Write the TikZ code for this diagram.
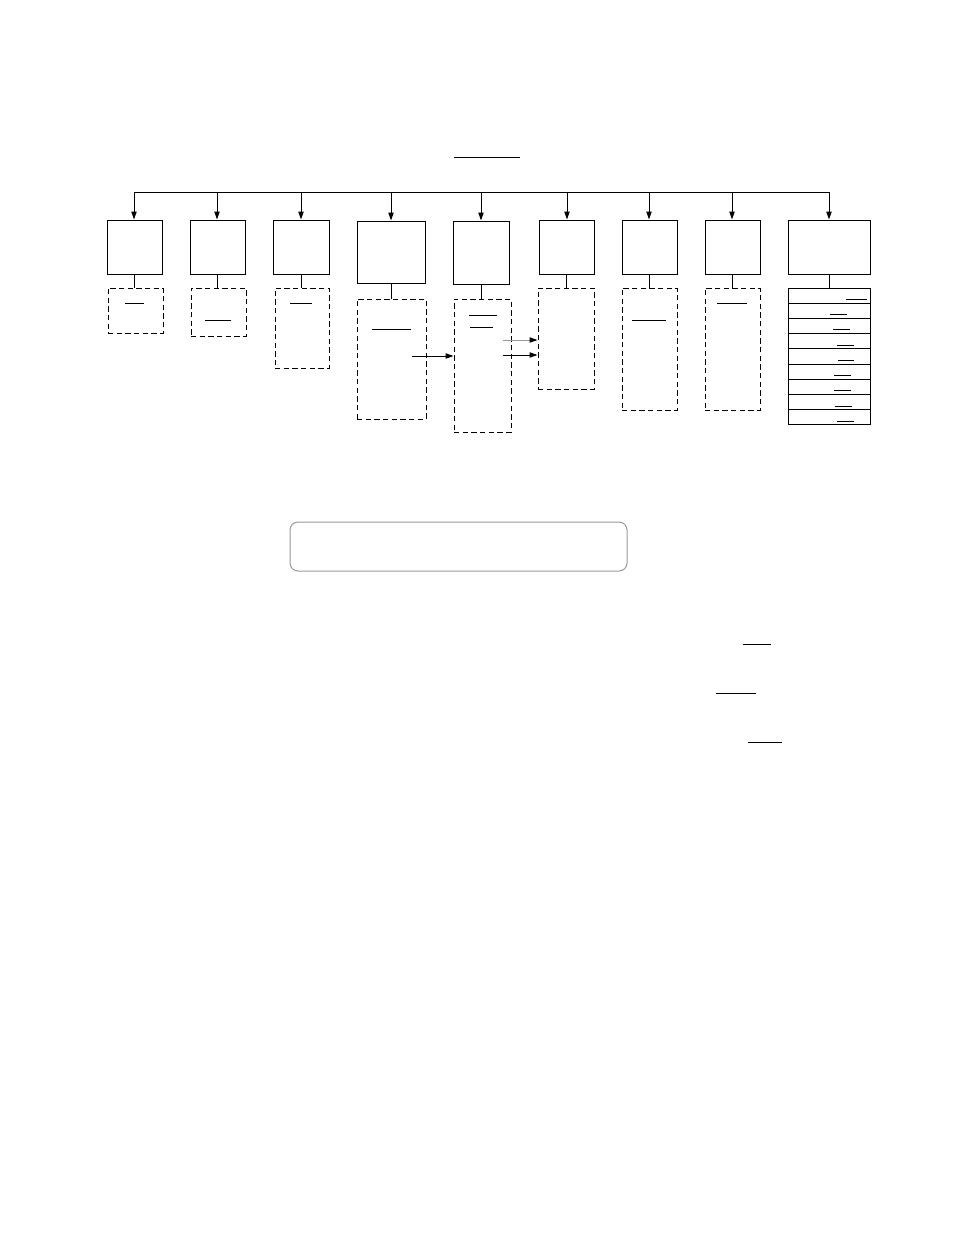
\documentclass[tikz,border=0pt]{standalone}
\usetikzlibrary{arrows.meta,fit}
\begin{document}
\begin{tikzpicture}[x=0.75pt,y=-0.75pt,
  line width=0.75pt,
  box/.style={draw,inner sep=0pt,line width=0.75pt},
  dbox/.style={draw,inner sep=0pt,line width=0.75pt,dash pattern=on 4pt off 2.5pt},
  arr/.style={-{Triangle[length=6pt,width=4pt,black]}},
  uline/.style={line width=0.75pt},
  rbox/.style={draw=black!40,rounded corners=6pt,inner sep=0pt,line width=0.75pt}]
\useasboundingbox (0,0) rectangle (954,1235);
% title underline
\draw[uline] (454,157) -- (520,157);
% bus taps
\foreach \i/\x in {1/134,2/217,3/301,4/391,5/481,6/567,7/649,8/732,9/829}
  \coordinate (t\i) at (\x,192);
\draw (t1) -- (t9);
% top boxes
\node[box,fit={(107,220) (162,274)}] (b1) {};
\node[box,fit={(190,220) (245,274)}] (b2) {};
\node[box,fit={(273,220) (329,274)}] (b3) {};
\node[box,fit={(357,221) (425,283)}] (b4) {};
\node[box,fit={(453,221) (509,284)}] (b5) {};
\node[box,fit={(539,220) (594,274)}] (b6) {};
\node[box,fit={(622,220) (677,274)}] (b7) {};
\node[box,fit={(705,220) (760,274)}] (b8) {};
\node[box,fit={(788,220) (870,274)}] (b9) {};
\foreach \i in {1,...,9} \draw[arr] (t\i) -- (t\i |- b\i.north);
% dashed boxes
\node[dbox,fit={(108,288) (163,333)}] (d1) {};
\node[dbox,fit={(191,288) (246,336)}] (d2) {};
\node[dbox,fit={(275,288) (329,368)}] (d3) {};
\node[dbox,fit={(357,299) (426,419)}] (d4) {};
\node[dbox,fit={(454,299) (511,432)}] (d5) {};
\node[dbox,fit={(538,288) (594,389)}] (d6) {};
\node[dbox,fit={(622,288) (677,410)}] (d7) {};
\node[dbox,fit={(705,288) (760,410)}] (d8) {};
% stacked list
\node[box,fit={(788,288) (870,424)}] (s9) {};
\foreach \y in {303,318,333,348,364,379,394,409} \draw (788,\y) -- (870,\y);
% links box -> dashed box
\foreach \i in {1,...,8} \draw (b\i.south) -- (b\i.south |- d\i.north);
\draw (b9.south) -- (s9.north);
% underlines inside dashed boxes
\draw[uline] (125,303) -- (144,303);
\draw[uline] (205,320) -- (231,320);
\draw[uline] (290,303) -- (312,303);
\draw[uline] (372,329) -- (411,329);
\draw[uline] (469,315) -- (497,315);
\draw[uline] (470,327) -- (493,327);
\draw[uline] (632,320) -- (666,320);
\draw[uline] (717,303) -- (747,303);
% underlines in list rows
\draw[uline] (846,299) -- (867,299);
\draw[uline] (830,314) -- (847,314);
\draw[uline] (833,329) -- (850,329);
\draw[uline] (837,345) -- (854,345);
\draw[uline] (838,360) -- (854,360);
\draw[uline] (834,375) -- (851,375);
\draw[uline] (834,390) -- (851,390);
\draw[uline] (835,406) -- (852,406);
\draw[uline] (837,421) -- (854,421);
% horizontal arrows
\coordinate (a1) at (412,356);
\draw[arr] (a1) -- (a1 -| d5.west);
\coordinate (a2) at (503,340);
\draw[arr,draw=black!40] (a2) -- (a2 -| d6.west);
\coordinate (a3) at (503,355);
\draw[arr] (a3) -- (a3 -| d6.west);
% rounded box
\node[rbox,fit={(290,522) (627,571)}] (rb) {};
% lower underlines
\draw[uline] (743,644) -- (771,644);
\draw[uline] (716,693) -- (756,693);
\draw[uline] (748,742) -- (782,742);
\end{tikzpicture}
\end{document}
